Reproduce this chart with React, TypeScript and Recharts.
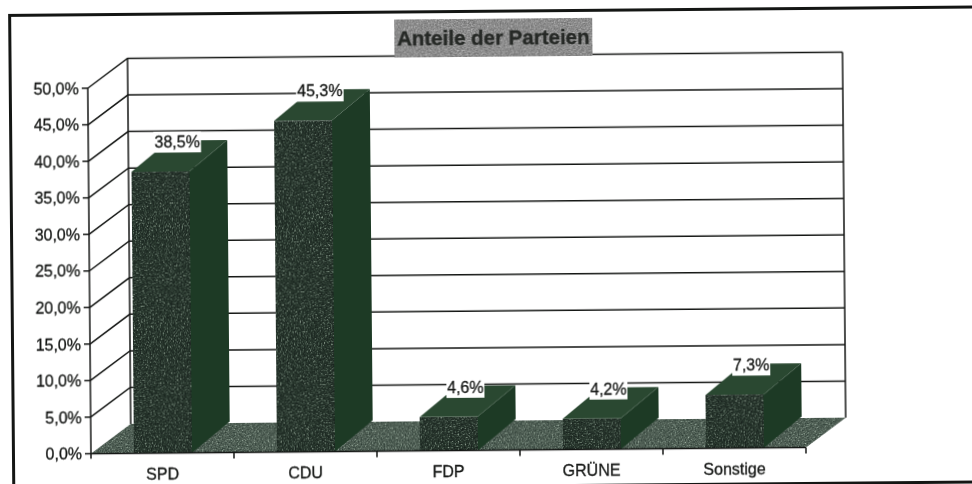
import { BarChart, Bar, XAxis, YAxis, CartesianGrid } from 'recharts';

const parties = ['SPD', 'CDU', 'FDP', 'GRÜNE', 'Sonstige'];
const shares = [38.5, 45.3, 4.6, 4.2, 7.3];
const yTicks = [0, 5, 10, 15, 20, 25, 30, 35, 40, 45, 50];

const data = parties.map((party, i) => ({ party, share: shares[i] }));

const INK = '#141614';
const WALL_DX = 40;
const WALL_DY = -29.5;
const BAR_DX = 38;
const BAR_DY = -31;
const BAND = 143;

const fmt = (v: number) => `${v.toFixed(1).replace('.', ',')}%`;

function GridLine(props: any) {
  const { x1, y1, x2, y, height, index } = props;
  const bottom = y + height;
  const isBottom = Math.abs(y1 - bottom) < 0.5;
  const isTop = Math.abs(y1 - y) < 0.5;
  const wy = y1 + WALL_DY;
  return (
    <g key={`grid-${index}`}>
      {isBottom && (
        <polygon
          points={`${x1},${y1} ${x1 + WALL_DX},${wy} ${x2 + WALL_DX},${wy} ${x2},${y1}`}
          fill="#4c6a58"
          filter="url(#grainFloor)"
        />
      )}
      {isTop && (
        <path
          d={`M${x1 + WALL_DX},${wy} V${bottom + WALL_DY} M${x2 + WALL_DX},${wy} V${bottom + WALL_DY}`}
          stroke={INK}
          strokeWidth={1.5}
          fill="none"
        />
      )}
      {!isBottom && (
        <path
          d={`M${x1},${y1} L${x1 + WALL_DX},${wy} H${x2 + WALL_DX}`}
          stroke={INK}
          strokeWidth={1.5}
          fill="none"
        />
      )}
    </g>
  );
}

function Box3D(props: any) {
  const { x, y, width, height } = props;
  const base = y + height;
  const r = x + width;
  return (
    <g>
      <polygon
        points={`${r},${y} ${r + BAR_DX},${y + BAR_DY} ${r + BAR_DX},${base + BAR_DY} ${r},${base}`}
        fill="#1d3a25"
      />
      <polygon
        points={`${x},${y} ${x + BAR_DX},${y + BAR_DY} ${r + BAR_DX},${y + BAR_DY} ${r},${y}`}
        fill="#2a4831"
      />
      <rect x={x} y={y} width={width} height={height} fill="#333" filter="url(#grainFront)" />
    </g>
  );
}

function ValueLabel(props: any) {
  const { x, y, value } = props;
  const text = fmt(value);
  const w = text.length * 9.5;
  const cx = x + 46;
  return (
    <g>
      <rect x={cx - w / 2} y={y - 40} width={w} height={21} fill="#fff" />
      <text
        x={cx}
        y={y - 24}
        textAnchor="middle"
        fontSize={16}
        fill={INK}
        stroke={INK}
        strokeWidth={0.3}
        fontFamily="Liberation Sans"
      >
        {text}
      </text>
    </g>
  );
}

function PartyTick(props: any) {
  const { x, y, payload, index } = props;
  return (
    <g>
      {index === 0 && <line x1={x - BAND / 2} y1={y} x2={x - BAND / 2} y2={y + 5} stroke={INK} strokeWidth={1.5} />}
      <line x1={x + BAND / 2} y1={y} x2={x + BAND / 2} y2={y + 6} stroke={INK} strokeWidth={1.5} />
      <text
        x={x}
        y={y + 26}
        textAnchor="middle"
        fontSize={16}
        fill={INK}
        stroke={INK}
        strokeWidth={0.3}
        fontFamily="Liberation Sans"
      >
        {payload.value}
      </text>
    </g>
  );
}

function Title() {
  return (
    <g>
      <rect x={394} y={23} width={198} height={38} fill="#888" filter="url(#grainTitle)" />
      <text
        x={493}
        y={49}
        textAnchor="middle"
        fontSize={20.5}
        fontWeight="bold"
        fill="#262926"
        stroke="#262926"
        strokeWidth={0.4}
        fontFamily="Liberation Sans"
      >
        Anteile der Parteien
      </text>
    </g>
  );
}

function grainFilter(id: string, seed: number, r: string, g: string, b: string) {
  return (
    <filter id={id} x="0" y="0" width="1" height="1" colorInterpolationFilters="sRGB">
      <feTurbulence type="fractalNoise" baseFrequency="0.7" numOctaves={3} seed={seed} result="n" />
      <feColorMatrix in="n" type="matrix" values="1 0 0 0 0 1 0 0 0 0 1 0 0 0 0 0 0 0 0 1" />
      <feComponentTransfer>
        <feFuncR type="table" tableValues={r} />
        <feFuncG type="table" tableValues={g} />
        <feFuncB type="table" tableValues={b} />
      </feComponentTransfer>
      <feComposite in2="SourceAlpha" operator="in" />
    </filter>
  );
}

export default function App() {
  return (
    <div
      style={{
        position: 'fixed',
        left: 0,
        top: 0,
        width: 972,
        height: 484,
        overflow: 'hidden',
        background: '#fff',
      }}
    >
      <div
        style={{
          position: 'absolute',
          left: 0,
          top: 0,
          width: 1100,
          height: 520,
          transform: 'rotate(-0.5deg)',
          transformOrigin: '0 0',
          filter: 'blur(0.4px)',
        }}
      >
        <div
          style={{
            position: 'absolute',
            left: 8,
            top: 14,
            width: 1080,
            height: 472,
            border: `3px solid ${INK}`,
          }}
        />
        <div style={{ position: 'absolute', left: 0, top: 0 }}>
          <BarChart
            width={972}
            height={500}
            data={data}
            margin={{ top: 89, right: 170, bottom: 0, left: 0 }}
          >
            <defs>
              {grainFilter(
                'grainFront',
                4,
                '0.08 0.09 0.1 0.13 0.18 0.36 0.62 0.75',
                '0.11 0.12 0.14 0.18 0.24 0.43 0.68 0.8',
                '0.1 0.11 0.12 0.15 0.2 0.38 0.62 0.75',
              )}
              {grainFilter(
                'grainFloor',
                9,
                '0.1 0.16 0.22 0.28 0.34 0.46 0.65 0.8',
                '0.16 0.22 0.28 0.34 0.4 0.53 0.72 0.86',
                '0.13 0.19 0.25 0.3 0.36 0.48 0.66 0.8',
              )}
              {grainFilter(
                'grainTitle',
                2,
                '0.35 0.4 0.46 0.52 0.58 0.66 0.76 0.85',
                '0.35 0.4 0.46 0.52 0.58 0.66 0.76 0.85',
                '0.35 0.4 0.46 0.52 0.58 0.66 0.76 0.85',
              )}
            </defs>
            <CartesianGrid vertical={false} horizontal={(p: any) => <GridLine {...p} />} />
            <XAxis
              dataKey="party"
              height={45.5}
              interval={0}
              tickSize={0}
              tickMargin={0}
              axisLine={{ stroke: INK, strokeWidth: 1.5 }}
              tickLine={false}
              tick={(p: any) => <PartyTick {...p} />}
            />
            <YAxis
              width={87}
              domain={[0, 50]}
              ticks={yTicks}
              interval={0}
              tickFormatter={fmt}
              tickSize={6}
              tickMargin={3}
              axisLine={{ stroke: INK, strokeWidth: 1.5 }}
              tickLine={{ stroke: INK, strokeWidth: 1.5 }}
              tick={{ fontSize: 16, fill: INK, stroke: INK, strokeWidth: 0.3, fontFamily: 'Liberation Sans' }}
            />
            <Bar
              dataKey="share"
              barSize={58}
              isAnimationActive={false}
              shape={(p: any) => <Box3D {...p} />}
              label={(p: any) => <ValueLabel {...p} />}
            />
            <Title />
          </BarChart>
        </div>
      </div>
    </div>
  );
}
